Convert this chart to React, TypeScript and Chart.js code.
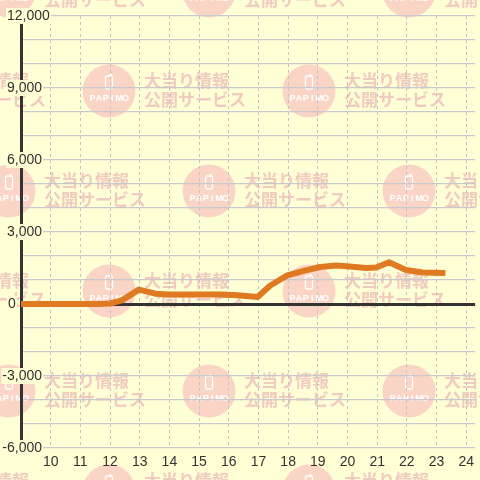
import React, { useEffect, useRef } from "react";
import { Chart, registerables } from "chart.js";

Chart.register(...registerables);

// ---- data ----
const hours = [9, 11.6, 12.0, 12.4, 12.97, 13.53, 14.0, 15.0, 15.7, 16.3, 16.97, 17.4, 17.97, 18.53, 19.07, 19.63, 20.07, 20.63, 20.97, 21.4, 21.97, 22.53, 23.3];
const values = [0, 0, 20, 150, 600, 430, 400, 400, 395, 360, 290, 770, 1190, 1380, 1540, 1600, 1560, 1500, 1520, 1740, 1420, 1310, 1290];
const yLabelValues = [12000, 9000, 6000, 3000, 0, -3000, -6000];
const xMin = 9;
const xMax = 24.3;
const yMin = -6000;
const yMax = 12000;

const BG = "#ffffd6";
const FONT = "'Liberation Sans', Arial, sans-serif";

const watermarkPlugin = {
  id: "watermark",
  beforeDraw(chart: any) {
    const { ctx, width, height } = chart;
    ctx.save();
    ctx.fillStyle = BG;
    ctx.fillRect(0, 0, width, height);
    for (let k = 0; k < 6; k++) {
      const cy = -9 + 100 * k;
      const odd = k % 2 === 1;
      const xs = odd ? [-91, 109, 309, 509] : [9, 209, 409];
      for (const cx of xs) {
        ctx.fillStyle = "#fad5c6";
        ctx.beginPath();
        ctx.arc(cx, cy, 26.5, 0, Math.PI * 2);
        ctx.fill();
        // phone icon
        ctx.strokeStyle = "#ffffff";
        ctx.lineWidth = 1.3;
        ctx.beginPath();
        const px = cx - 3.5, py = cy - 15, pw = 7, ph = 13;
        ctx.moveTo(px + 1.5, py);
        ctx.lineTo(px + pw - 1.5, py);
        ctx.quadraticCurveTo(px + pw, py, px + pw, py + 1.5);
        ctx.lineTo(px + pw, py + ph - 1.5);
        ctx.quadraticCurveTo(px + pw, py + ph, px + pw - 1.5, py + ph);
        ctx.lineTo(px + 1.5, py + ph);
        ctx.quadraticCurveTo(px, py + ph, px, py + ph - 1.5);
        ctx.lineTo(px, py + 1.5);
        ctx.quadraticCurveTo(px, py, px + 1.5, py);
        ctx.stroke();
        ctx.fillStyle = "#ffffff";
        ctx.fillRect(cx + 0.5, py - 2, 2, 3);
        // PAPIMO
        ctx.font = `bold 9px ${FONT}`;
        ctx.textAlign = "center";
        ctx.textBaseline = "middle";
        const letters = "PAPIMO".split("");
        const sp = 6.6;
        letters.forEach((l, i) => {
          ctx.fillText(l, cx - (sp * 5) / 2 + i * sp, cy + 8);
        });
        // text
        ctx.fillStyle = "#f1cac0";
        ctx.font = `bold 17px 'Noto Sans CJK JP', sans-serif`;
        ctx.textAlign = "left";
        ctx.fillText("大当り情報", cx + 35, cy - 10);
        ctx.fillText("公開サービス", cx + 35, cy + 9);
      }
    }
    ctx.restore();
  },
};

const yLabelPlugin = {
  id: "yLabels",
  afterDraw(chart: any) {
    const { ctx } = chart;
    const y = chart.scales.y;
    ctx.save();
    ctx.font = `14px ${FONT}`;
    ctx.textBaseline = "middle";
    ctx.textAlign = "left";
    for (const v of yLabelValues) {
      const py = y.getPixelForValue(v);
      const txt = Math.abs(v).toLocaleString("en-US");
      const minus = v < 0 ? "-" : "";
      const mw = ctx.measureText(minus).width;
      const full = minus + txt;
      const fw = ctx.measureText(full).width;
      const left = 7 - mw + (v === 0 ? 1 : 0);
      ctx.fillStyle = BG;
      ctx.fillRect(left - 1, py - 8, fw + 2, 16);
      ctx.fillStyle = "#333333";
      ctx.fillText(full, left, py + 0.5);
    }
    ctx.restore();
  },
};

export default function App() {
  const ref = useRef<HTMLCanvasElement | null>(null);
  useEffect(() => {
    if (!ref.current) return;
    const data = hours.map((h, i) => ({ x: h, y: values[i] }));
    const chart = new Chart(ref.current, {
      type: "line",
      data: {
        datasets: [
          {
            data,
            borderColor: "#e07a22",
            borderWidth: 6,
            pointRadius: 0,
            tension: 0,
            borderCapStyle: "butt",
            borderJoinStyle: "round",
            fill: false,
          },
        ],
      },
      options: {
        animation: false,
        responsive: false,
        devicePixelRatio: 1,
        layout: { padding: { top: 16, left: 0, right: 0, bottom: 0 } },
        plugins: { legend: { display: false }, tooltip: { enabled: false } },
        scales: {
          x: {
            type: "linear",
            min: xMin,
            max: xMax,
            ticks: {
              stepSize: 1,
              includeBounds: false,
              autoSkip: false,
              maxRotation: 0,
              padding: 6,
              color: "#333333",
              font: { family: FONT, size: 14 },
              callback: (v: any) => (v === 9 ? "" : String(v)),
            },
            grid: {
              color: (c: any) => (c.tick && c.tick.value === 9 ? "rgba(0,0,0,0)" : "#c2c2c8"),
              lineWidth: 1,
              drawTicks: false,
            },
            border: { display: false, dash: [3, 3] },
            afterFit: (s: any) => {
              s.height = 32;
            },
          },
          y: {
            type: "linear",
            min: yMin,
            max: yMax,
            ticks: { stepSize: 1000, display: false },
            grid: {
              color: (c: any) => (c.tick && c.tick.value === 0 ? "#333333" : "#c8c8d0"),
              lineWidth: (c: any) => (c.tick && c.tick.value === 0 ? 3 : 1.2),
              drawTicks: false,
            },
            border: { display: true, color: "#333333", width: 3 },
            afterFit: (s: any) => {
              s.width = 21;
            },
          },
        },
      },
      plugins: [watermarkPlugin, yLabelPlugin],
    } as any);
    return () => chart.destroy();
  }, []);
  return (
    <div style={{ position: "fixed", left: 0, top: 0, width: 480, height: 480 }}>
      <canvas ref={ref} width={480} height={480} />
    </div>
  );
}
